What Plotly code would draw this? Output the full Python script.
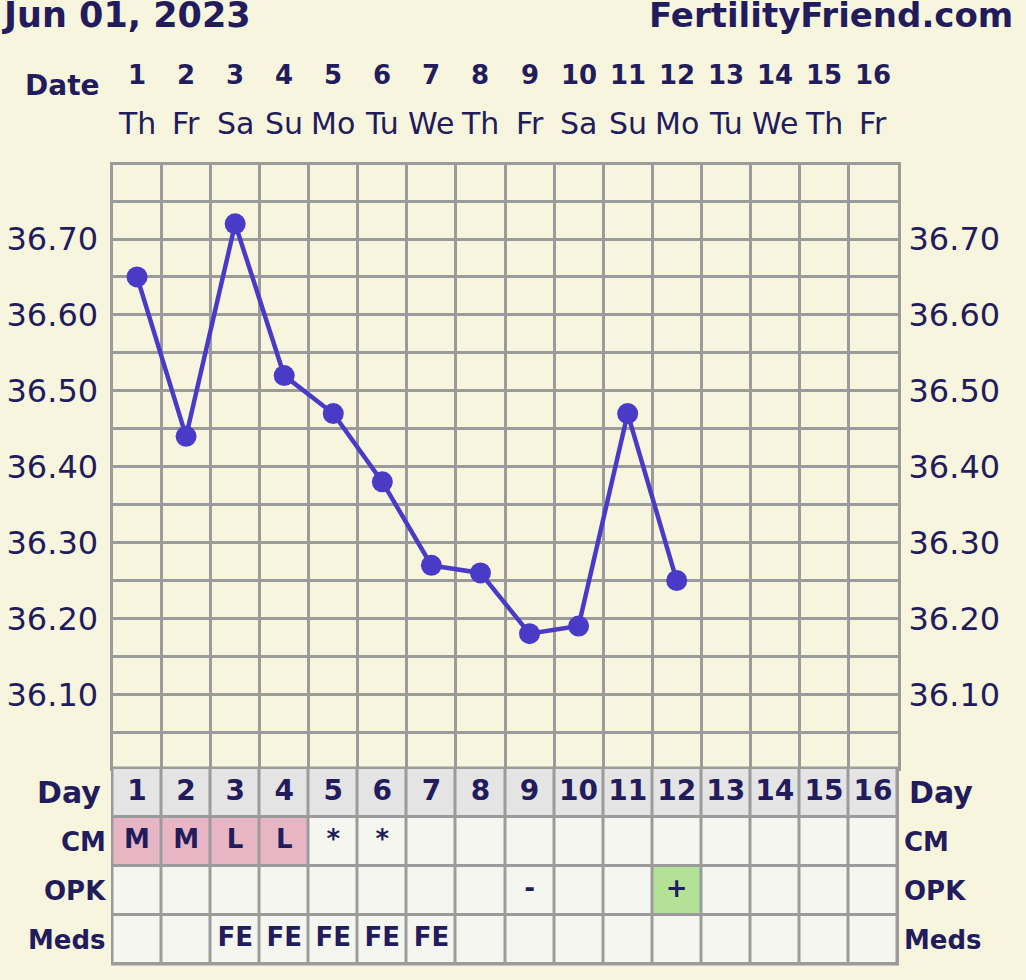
import plotly.graph_objects as go

W, H = 1026, 980

# ---------------- data ----------------
days = list(range(1, 17))
weekdays = ["Th", "Fr", "Sa", "Su", "Mo", "Tu", "We", "Th",
            "Fr", "Sa", "Su", "Mo", "Tu", "We", "Th", "Fr"]
temp_days = list(range(1, 13))
temps = [36.65, 36.44, 36.72, 36.52, 36.47, 36.38, 36.27, 36.26,
         36.18, 36.19, 36.47, 36.25]
ytick_vals = [36.10, 36.20, 36.30, 36.40, 36.50, 36.60, 36.70]
ytick_labels = ["36.10", "36.20", "36.30", "36.40", "36.50", "36.60", "36.70"]
row_labels = ["Day", "CM", "OPK", "Meds"]
cm = ["M", "M", "L", "L", "*", "*", "", "", "", "", "", "", "", "", "", ""]
opk = ["", "", "", "", "", "", "", "", "-", "", "", "+", "", "", "", ""]
meds = ["", "", "FE", "FE", "FE", "FE", "FE", "", "", "", "", "", "", "", "", ""]
title_left = "Jun 01, 2023"
title_right = "FertilityFriend.com"

# ---------------- style ----------------
BG = "#f7f5dd"
NAVY = "#221b5c"
GRID = "#9b9b9b"
LINE = "#4a3bc7"
DAYROW = "#e4e4e4"
CELL = "#f6f6f1"
PINK = "#e8b5c5"
GREEN = "#b3e297"
FONT = "DejaVu Sans"


def fx(p):
    return p / W


def fy(p):
    return 1 - p / H


x_dom = [fx(112.5), fx(897.5)]
chart_dom = [fy(768), fy(165)]
table_dom = [fy(964), fy(768)]
y_range = [36.003, 36.7975]

fig = go.Figure()

# temperature line
fig.add_trace(go.Scatter(
    x=temp_days, y=temps, mode="lines+markers",
    line=dict(color=LINE, width=4.5),
    marker=dict(color=LINE, size=21),
    hoverinfo="skip", showlegend=False, xaxis="x", yaxis="y"))
# invisible trace to host right-hand axis
fig.add_trace(go.Scatter(
    x=temp_days, y=temps, mode="markers", marker=dict(opacity=0),
    hoverinfo="skip", showlegend=False, xaxis="x", yaxis="y3"))

# table cells
codes = []
codes.append([0] * len(days))
codes.append([2 if v in ("M", "L") else 1 for v in cm])
codes.append([3 if v == "+" else 1 for v in opk])
codes.append([1] * len(days))
fig.add_trace(go.Heatmap(
    x=days, y=[0, 1, 2, 3], z=codes, zmin=0, zmax=3,
    colorscale=[[0, DAYROW], [0.25, DAYROW], [0.25, CELL], [0.5, CELL],
                [0.5, PINK], [0.75, PINK], [0.75, GREEN], [1, GREEN]],
    showscale=False, xgap=3, ygap=3, hoverinfo="skip",
    xaxis="x2", yaxis="y2"))

# table texts
fig.add_trace(go.Scatter(
    x=days, y=[0] * len(days), text=[str(d) for d in days], mode="text",
    textfont=dict(family=FONT, size=28, color=NAVY, weight="bold"),
    hoverinfo="skip", showlegend=False, xaxis="x2", yaxis="y2"))
for r, row in ((1, cm), (2, opk), (3, meds)):
    fig.add_trace(go.Scatter(
        x=days, y=[r] * len(days), text=row, mode="text",
        textfont=dict(family=FONT, size=26, color=NAVY, weight="bold"),
        hoverinfo="skip", showlegend=False, xaxis="x2", yaxis="y2"))

ann = []
# titles (touching the top edge, as in the original)
ann.append(dict(text=title_left, x=fx(0), xanchor="left", y=fy(15), yanchor="middle",
                xref="paper", yref="paper", showarrow=False,
                font=dict(family=FONT, size=35, color=NAVY, weight="bold")))
ann.append(dict(text=title_right, x=fx(1015), xanchor="right", y=fy(15), yanchor="middle",
                xref="paper", yref="paper", showarrow=False,
                font=dict(family=FONT, size=34, color=NAVY, weight="bold")))
# header
ann.append(dict(text="Date", x=fx(102), xanchor="right", y=fy(85), yanchor="middle",
                xref="paper", yref="paper", showarrow=False,
                font=dict(family=FONT, size=28, color=NAVY, weight="bold")))
for d, wd in zip(days, weekdays):
    ann.append(dict(text=str(d), x=d, xref="x", y=fy(75), yref="paper", yanchor="middle",
                    showarrow=False,
                    font=dict(family=FONT, size=26, color=NAVY, weight="bold")))
    ann.append(dict(text=wd, x=d, xref="x", y=fy(123), yref="paper", yanchor="middle",
                    showarrow=False,
                    font=dict(family=FONT, size=30, color=NAVY)))
# row labels left and right
for i, lab in enumerate(row_labels):
    size = 30 if i == 0 else 26
    lx = 103 if i == 0 else 108
    rx = 907 if i == 0 else 902
    ann.append(dict(text=lab, x=fx(lx), xref="paper", xanchor="right", y=i, yref="y2",
                    yanchor="middle", showarrow=False,
                    font=dict(family=FONT, size=size, color=NAVY, weight="bold")))
    ann.append(dict(text=lab, x=fx(rx), xref="paper", xanchor="left", y=i, yref="y2",
                    yanchor="middle", showarrow=False,
                    font=dict(family=FONT, size=size, color=NAVY, weight="bold")))

shapes = [dict(type="rect", xref="x2 domain", yref="y2 domain", x0=0, x1=1, y0=0, y1=1,
               fillcolor=GRID, line=dict(color=GRID, width=3), layer="below")]

fig.update_layout(
    width=W, height=H, autosize=False,
    margin=dict(l=0, r=0, t=0, b=0, pad=0),
    paper_bgcolor=BG, plot_bgcolor=BG,
    showlegend=False,
    annotations=ann, shapes=shapes,
    xaxis=dict(domain=x_dom, range=[0.5, 16.5], anchor="y",
               tickvals=[d - 0.5 for d in days] + [16.5], showticklabels=False,
               ticks="", showgrid=True, gridcolor=GRID, gridwidth=3,
               showline=True, mirror=True, linecolor=GRID, linewidth=3,
               zeroline=False, fixedrange=True),
    yaxis=dict(domain=chart_dom, range=y_range, anchor="x",
               tickvals=ytick_vals, ticktext=ytick_labels, ticks="",
               ticklabelstandoff=5,
               tickfont=dict(family=FONT, size=32, color=NAVY),
               showgrid=True, gridcolor=GRID, gridwidth=3,
               minor=dict(tick0=36.05, dtick=0.1, showgrid=True,
                          gridcolor=GRID, gridwidth=3),
               showline=True, mirror=True, linecolor=GRID, linewidth=3,
               zeroline=False, fixedrange=True),
    yaxis3=dict(overlaying="y", side="right", anchor="x", range=y_range,
                tickvals=ytick_vals, ticktext=ytick_labels, ticks="",
                ticklabelstandoff=10,
                tickfont=dict(family=FONT, size=32, color=NAVY),
                showgrid=False, showline=False, zeroline=False, fixedrange=True),
    xaxis2=dict(domain=x_dom, range=[0.5, 16.5], anchor="y2",
                showticklabels=False, ticks="", showgrid=False,
                showline=False, zeroline=False, fixedrange=True),
    yaxis2=dict(domain=table_dom, range=[3.5, -0.5], anchor="x2",
                showticklabels=False, ticks="", showgrid=False,
                showline=False, zeroline=False, fixedrange=True),
)

fig.write_html(
    "out.html",
    config={"displayModeBar": False},
    post_script="document.body.style.margin='0';document.body.style.background='%s';" % BG,
)
